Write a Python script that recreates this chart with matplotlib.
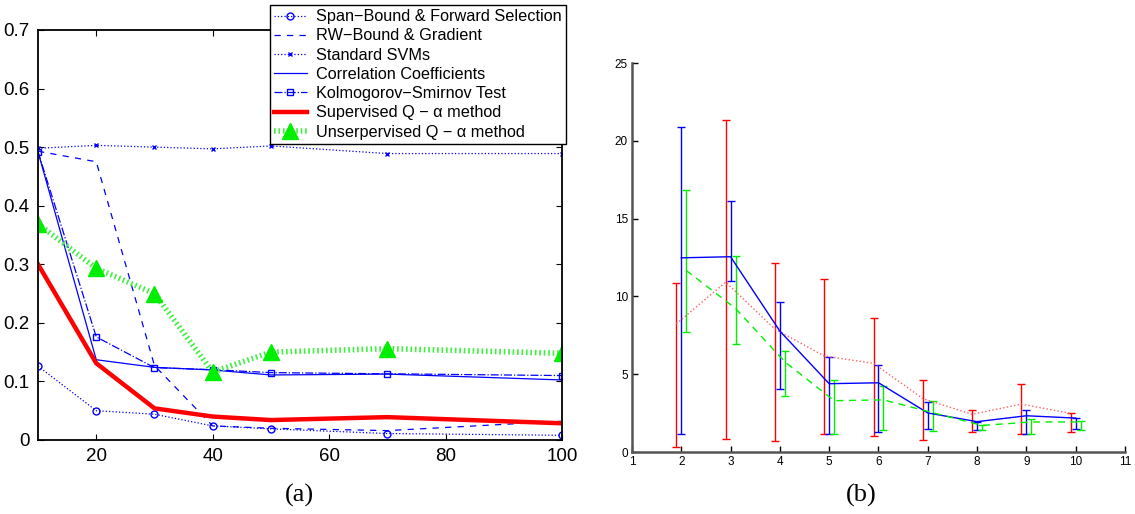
import numpy as np
import matplotlib.pyplot as plt

plt.rcParams['font.family'] = ['Liberation Sans', 'DejaVu Sans']

# (a) test error vs. number of features
n_feat = [10, 20, 30, 40, 50, 70, 100]
span_bound = [0.126, 0.050, 0.044, 0.024, 0.019, 0.011, 0.008]
rw_bound = [0.493, 0.475, 0.127, 0.024, 0.020, 0.016, 0.032]
svm_std = [0.498, 0.503, 0.500, 0.497, 0.502, 0.489, 0.489]
corr_coef = [0.492, 0.137, 0.124, 0.1195, 0.111, 0.1125, 0.1025]
ks_test = [0.492, 0.176, 0.1235, 0.120, 0.115, 0.113, 0.110]
q_alpha_sup = [0.300, 0.131, 0.054, 0.040, 0.034, 0.039, 0.0285]
q_alpha_unsup = [0.369, 0.293, 0.250, 0.116, 0.150, 0.156, 0.148]

# (b) mean with lower / upper bounds for three methods
k = np.arange(2, 11)
red_mean = [8.24, 10.92, 7.90, 6.17, 5.70, 3.43, 2.42, 3.08, 2.48]
red_lo = [0.34, 0.86, 0.71, 1.18, 1.05, 0.79, 1.31, 1.13, 1.31]
red_hi = [10.86, 21.35, 12.16, 11.10, 8.60, 4.63, 2.70, 4.37, 2.53]
blue_mean = [12.48, 12.55, 7.77, 4.39, 4.45, 2.51, 1.95, 2.33, 2.18]
blue_lo = [1.16, 10.98, 4.03, 1.16, 1.31, 1.48, 1.43, 1.13, 1.48]
blue_hi = [20.90, 16.10, 9.66, 6.12, 5.59, 3.23, 1.95, 2.72, 2.18]
green_mean = [11.67, 9.23, 5.80, 3.30, 3.35, 2.53, 1.71, 1.93, 1.93]
green_lo = [7.73, 6.95, 3.60, 1.18, 1.43, 1.33, 1.39, 1.18, 1.39]
green_hi = [16.85, 12.60, 6.49, 4.63, 4.24, 3.25, 1.73, 2.10, 1.99]

fig = plt.figure(figsize=(11.35, 5.14), dpi=100)

# ---- panel (a) ----
ax1 = fig.add_axes([0.0335, 0.144, 0.4617, 0.7977])
blue = '#0000ff'
ax1.plot(n_feat, span_bound, ':', color=blue, lw=0.9, marker='o', ms=5, mfc='none',
         label='Span\u2212Bound & Forward Selection')
ax1.plot(n_feat, rw_bound, '--', color=blue, lw=0.9, dashes=(5, 5),
         label='RW\u2212Bound & Gradient')
ax1.plot(n_feat, svm_std, ':', color=blue, lw=0.9, marker='x', ms=3.5,
         label='Standard SVMs')
ax1.plot(n_feat, corr_coef, '-', color=blue, lw=0.9,
         label='Correlation Coefficients')
ax1.plot(n_feat, ks_test, '-.', color=blue, lw=0.9, marker='s', ms=4.5, mfc='none',
         label='Kolmogorov\u2212Smirnov Test')
ax1.plot(n_feat, q_alpha_sup, '-', color='#ff0000', lw=3.2,
         label='Supervised Q \u2212 \u03b1 method')
ax1.plot(n_feat, q_alpha_unsup, color='#44ee44', lw=4, dashes=(0.3, 0.5),
         marker='^', ms=12, mfc='#00ee00', mec='#00ee00',
         label='Unserpervised Q \u2212 \u03b1 method')

ax1.set_xlim(10, 100)
ax1.set_ylim(0, 0.7)
ax1.set_xticks([20, 40, 60, 80, 100])
ax1.set_yticks(np.arange(0, 0.71, 0.1))
ax1.set_yticklabels(['0', '0.1', '0.2', '0.3', '0.4', '0.5', '0.6', '0.7'])
ax1.tick_params(direction='in', length=4, width=0.8, labelsize=13.5,
                top=True, right=True, pad=6)
for s in ax1.spines.values():
    s.set_linewidth(1.3)

leg = ax1.legend(loc='upper left', bbox_to_anchor=(0.238, 0.990),
                 bbox_transform=fig.transFigure, fontsize=11.7, frameon=True,
                 fancybox=False, borderaxespad=0, handlelength=2.0,
                 labelspacing=0.26, borderpad=0.25, handletextpad=0.6)
leg.get_frame().set_edgecolor('black')
leg.get_frame().set_linewidth(1.0)
leg.get_frame().set_alpha(1)

# ---- panel (b) ----
ax2 = fig.add_axes([0.5568, 0.1206, 0.4344, 0.7568])
red_mean, red_lo, red_hi = map(np.array, (red_mean, red_lo, red_hi))
blue_mean, blue_lo, blue_hi = map(np.array, (blue_mean, blue_lo, blue_hi))
green_mean, green_lo, green_hi = map(np.array, (green_mean, green_lo, green_hi))

ax2.errorbar(k - 0.1, red_mean, yerr=[red_mean - red_lo, red_hi - red_mean],
             fmt=':', color='#ff6060', ecolor='#ff0000', lw=1, elinewidth=1,
             capsize=2.6, capthick=1)
ax2.errorbar(k, blue_mean, yerr=[blue_mean - blue_lo, blue_hi - blue_mean],
             fmt='-', color='#0000ff', lw=1, elinewidth=1, capsize=2.6, capthick=1)
ax2.errorbar(k + 0.1, green_mean, yerr=[green_mean - green_lo, green_hi - green_mean],
             fmt='--', color='#00ee00', lw=1, elinewidth=1, capsize=2.6, capthick=1,
             dashes=(5, 4))

ax2.set_xlim(1, 11)
ax2.set_ylim(0, 25)
ax2.set_xticks(range(1, 12))
ax2.set_yticks(range(0, 26, 5))
ax2.spines['top'].set_visible(False)
ax2.spines['right'].set_visible(False)
for s in ('left', 'bottom'):
    ax2.spines[s].set_linewidth(1.8)
    ax2.spines[s].set_color('#555555')
ax2.tick_params(direction='in', length=4, width=1, labelsize=8.5, pad=3)

fig.text(0.264, 0.025, '(a)', family='Liberation Serif', fontsize=19, ha='center')
fig.text(0.759, 0.025, '(b)', family='Liberation Serif', fontsize=19, ha='center')

plt.savefig('out.png', dpi=100)
plt.close()
